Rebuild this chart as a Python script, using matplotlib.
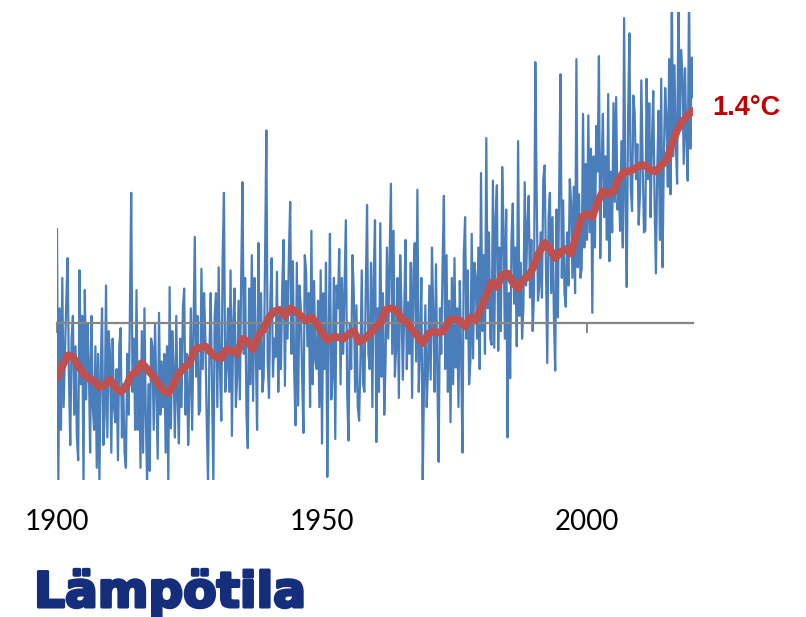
import numpy as np
import matplotlib
matplotlib.use("Agg")
import matplotlib.pyplot as plt
import matplotlib.patheffects as pe

# Temperature anomaly, four readings per year from 1900 to 2020 (°C)
anomaly = [
    # 1900s
    0.62, -1.05, 0.10, -0.70, 0.30, -0.55, -0.20, 0.15,
    0.43, -0.35, -0.80, -0.10, 0.05, -0.60, -0.15, -0.75,
    -0.90, 0.35, -0.40, 0.05, -1.05, 0.22, -0.50, 0.00,
    -0.25, -0.85, 0.05, -0.55, -0.70, -0.15, -0.95, -0.20,
    -1.05, -0.30, 0.10, -0.80, -0.60, 0.25, -0.75, -0.05,
    # 1910s
    -0.20, -0.85, -0.10, -0.55, -0.65, -0.30, -0.90, -0.15,
    -0.03, -0.75, -0.40, -0.85, -0.95, -0.20, -0.60, 0.05,
    0.86, -0.45, -0.10, -0.70, 0.22, -0.70, -0.25, -0.95,
    -0.05, -0.85, 0.10, -0.60, -1.05, -0.40, -0.97, -0.10,
    -0.15, -0.70, 0.00, -0.45, -0.89, 0.07, -0.60, -0.25,
    # 1920s
    -0.55, -0.20, -0.85, -0.15, -1.05, 0.24, -0.69, -0.05,
    -0.30, -0.75, 0.05, -0.50, -0.79, -0.10, -0.55, 0.10,
    0.23, -0.60, -0.20, -0.80, -0.45, 0.10, -0.70, -0.05,
    0.57, -0.35, 0.05, -0.60, -0.57, 0.36, -0.30, 0.20,
    -0.10, -0.65, -1.05, -0.20, 0.20, -0.40, -1.05, 0.05,
    # 1930s
    0.20, -0.55, 0.37, -0.30, -0.64, 0.43, 0.86, -0.45,
    -0.30, 0.10, -0.45, 0.35, -0.74, 0.00, 0.23, -0.55,
    -0.35, 0.15, -0.50, 0.30, 0.93, -0.20, 0.30, -0.60,
    -0.82, 0.23, -0.40, 0.45, -0.51, 0.30, -0.15, -0.70,
    0.53, -0.30, 0.20, -0.45, -0.35, 0.40, 1.27, -0.25,
    # 1940s
    -0.49, 0.15, 0.43, -0.35, -0.10, -0.22, 0.34, -0.45,
    0.05, -0.30, 0.25, 0.55, -0.41, 0.28, -0.10, 0.45,
    0.80, -0.20, 0.41, -0.30, -0.67, 0.40, -0.54, 0.25,
    0.10, -0.35, -0.72, 0.45, 0.34, -0.15, 0.20, -0.55,
    0.61, -0.40, 0.28, -0.25, -0.30, 0.15, -0.55, 0.35,
    # 1950s
    -0.79, 0.20, -0.30, 0.40, -1.01, -0.10, 0.59, -0.50,
    -0.35, 0.30, -0.76, 0.25, 0.10, 0.49, -0.40, 0.30,
    -0.20, 0.25, 0.68, -0.45, -0.77, 0.00, -0.30, 0.45,
    0.20, -0.45, 0.12, -0.55, -0.64, -0.26, 0.35, -0.40,
    -0.45, 0.20, 0.78, -0.20, -0.30, 0.40, -0.55, 0.30,
    # 1960s
    0.68, -0.78, 0.10, -0.45, 0.66, -0.35, 0.20, -0.60,
    -0.25, 0.50, -0.10, 0.40, 0.92, -0.20, 0.61, -0.35,
    -0.15, 0.30, -0.49, 0.45, 0.10, -0.37, 0.05, 0.55,
    -0.30, 0.14, -0.20, 0.40, -0.49, 0.34, 0.53, -0.25,
    0.88, -0.45, -0.15, 0.30, -1.05, -0.40, 0.12, -0.55,
    # 1970s
    -0.30, 0.25, -0.37, 0.50, 0.05, -0.45, 0.39, -0.30,
    -0.91, 0.10, -0.20, 0.40, 0.84, -0.30, 0.45, -0.45,
    0.15, -0.65, 0.30, -0.40, 0.43, -0.29, 0.10, -0.55,
    0.28, -0.20, -0.85, 0.45, 0.70, -0.10, 0.35, -0.40,
    -0.25, 0.59, -0.23, 0.40, 0.30, -0.10, 0.50, -0.30,
    # 1980s
    0.99, -0.05, 0.45, -0.20, 1.22, 0.10, 0.60, -0.10,
    -0.14, 0.94, -0.16, 0.70, 0.91, -0.18, 0.50, -0.05,
    1.03, 0.61, -0.10, 0.75, -0.75, 0.20, -0.36, 0.55,
    0.79, 0.13, 0.50, -0.15, 1.20, 0.05, 0.40, -0.10,
    0.11, 0.93, 0.25, 0.65, 0.84, 0.17, 0.55, -0.05,
    # 1990s
    0.20, 1.72, 0.86, 0.15, 0.25, 0.60, 0.17, 0.95,
    1.04, 0.40, -0.26, 0.70, 0.86, 0.20, 0.70, 0.05,
    -0.31, 0.75, 0.04, 0.90, 1.64, 0.30, 0.81, 0.20,
    0.11, 0.60, 0.25, 0.95, 0.80, 0.30, 0.90, 0.20,
    1.74, 0.37, 0.85, 0.30, 0.36, 1.38, 0.50, 1.05,
    # 2000s
    0.55, 1.37, 0.60, 1.15, 0.07, 1.10, 0.50, 1.30,
    1.00, 1.76, 0.43, 1.05, 1.38, 0.70, 1.10, 0.55,
    1.51, 0.41, 1.00, 0.60, 1.45, 0.80, 1.49, 0.75,
    0.90, 0.61, 1.20, 0.50, 2.01, 0.80, 0.24, 1.35,
    1.91, 0.90, 0.74, 1.50, 1.38, 0.95, 1.18, 0.65,
    # 2010s
    0.85, 1.60, 1.05, 0.60, 0.61, 1.61, 0.95, 1.45,
    0.70, 1.20, 1.53, 0.80, 0.33, 1.00, 1.40, 0.55,
    1.61, 0.37, 1.10, 1.55, 1.34, 0.90, 1.74, 0.85,
    2.20, 1.10, 1.70, 1.20, 0.92, 2.20, 1.30, 1.80,
    1.65, 1.05, 1.68, 1.20, 0.94, 2.20, 1.15, 1.75,
    # 2020
    1.49,
]

# Smoothed trend, one value per year
trend_years = list(range(1900, 2021))
trend = [
    -0.36, -0.28, -0.21, -0.22, -0.28, -0.33, -0.36, -0.38, -0.42, -0.40,
    -0.37, -0.42, -0.45, -0.42, -0.34, -0.32, -0.26, -0.30, -0.34, -0.39,
    -0.44, -0.46, -0.40, -0.33, -0.29, -0.26, -0.17, -0.16, -0.15, -0.19,
    -0.22, -0.23, -0.17, -0.18, -0.20, -0.10, -0.12, -0.17, -0.08, -0.04,
    0.04, 0.08, 0.09, 0.05, 0.10, 0.08, 0.05, 0.02, 0.04, 0.00,
    -0.06, -0.11, -0.09, -0.09, -0.10, -0.07, -0.05, -0.12, -0.10, -0.07,
    -0.03, 0.00, 0.09, 0.10, 0.09, 0.03, 0.01, -0.04, -0.08, -0.13,
    -0.07, -0.05, -0.06, -0.05, 0.02, 0.03, 0.02, -0.02, 0.04, 0.02,
    0.10, 0.18, 0.27, 0.24, 0.32, 0.33, 0.27, 0.23, 0.29, 0.31,
    0.38, 0.47, 0.53, 0.49, 0.43, 0.47, 0.49, 0.46, 0.58, 0.70,
    0.72, 0.70, 0.80, 0.87, 0.85, 0.87, 0.95, 1.00, 1.00, 1.02,
    1.04, 1.04, 1.01, 1.00, 1.04, 1.07, 1.18, 1.27, 1.33, 1.37,
    1.40,
]

year_ticks = [1900, 1950, 2000]
title = "Lämpötila"
title_color = "#142e7c"

W, H = 806, 617
fig = plt.figure(figsize=(W / 100, H / 100), dpi=100)
ax = fig.add_axes([57 / W, (H - 480) / H, (693 - 57) / W, (480 - 12) / H])

t = 1900 + np.arange(len(anomaly)) / 4
ax.plot(t, anomaly, color="#4a7ebb", lw=1.6, zorder=2)
ax.plot(trend_years, trend, color="#c0504d", lw=5.5, solid_capstyle="round",
        solid_joinstyle="round", zorder=3)

ax.set_xlim(1900, 2020)
ax.set_ylim(-1.03, 2.05)

for side in ("top", "right", "left"):
    ax.spines[side].set_visible(False)
ax.spines["bottom"].set_position(("data", 0))
ax.spines["bottom"].set_color("#868686")
ax.spines["bottom"].set_linewidth(1.6)
ax.set_yticks([])
ax.set_xticks(year_ticks)
ax.tick_params(axis="x", direction="out", length=7, width=1.4, color="#868686",
               labelbottom=False)

# year labels sit below the plot, away from the zero line
sec = ax.secondary_xaxis("bottom")
sec.spines["bottom"].set_visible(False)
sec.set_xticks(year_ticks)
sec.tick_params(axis="x", length=0, pad=21, labelsize=20)
for lab in sec.get_xticklabels():
    lab.set_fontfamily("Lato")

ax.annotate(f"{trend[-1]:.1f}°C", xy=(trend_years[-1], trend[-1]),
            xytext=(14, 2), textcoords="offset points", ha="left", va="center",
            color="#c00000", fontsize=19.5, fontweight="bold",
            fontfamily="Liberation Sans", annotation_clip=False)

fig.text(34 / W, 1 - 607 / H, title, ha="left", va="baseline",
         fontsize=35, fontweight="bold", color=title_color, fontfamily="DejaVu Sans",
         path_effects=[pe.withStroke(linewidth=2.2, foreground=title_color)])

fig.savefig("out.png", dpi=100)
